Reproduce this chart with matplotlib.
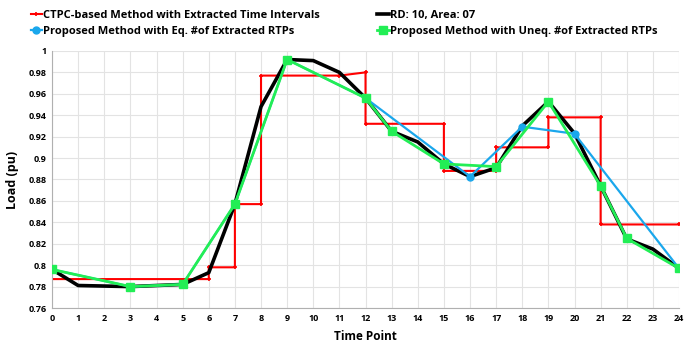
import matplotlib.pyplot as plt

plt.rcParams['font.family'] = ['Open Sans', 'DejaVu Sans']

hours = list(range(25))
actual = [0.796, 0.781, 0.7805, 0.780, 0.781, 0.782, 0.793, 0.857, 0.948, 0.992,
          0.991, 0.980, 0.956, 0.925, 0.915, 0.8945, 0.8827, 0.891, 0.930, 0.9527,
          0.923, 0.874, 0.8245, 0.815, 0.797]

# CTPC step points (time, value)
ctpc_t = [0, 6, 6, 7, 7, 8, 8, 11, 12, 12, 15, 15, 17, 17, 19, 19, 21, 21, 24]
ctpc_v = [0.787, 0.787, 0.798, 0.798, 0.857, 0.857, 0.977, 0.977, 0.980, 0.932,
          0.932, 0.888, 0.888, 0.910, 0.910, 0.938, 0.938, 0.838, 0.838]

eq_t = [0, 3, 5, 7, 9, 12, 16, 18, 20, 24]
eq_v = [0.796, 0.780, 0.782, 0.857, 0.992, 0.956, 0.8827, 0.9293, 0.9227, 0.797]

uneq_t = [0, 3, 5, 7, 9, 12, 13, 15, 17, 19, 21, 22, 24]
uneq_v = [0.796, 0.780, 0.782, 0.857, 0.992, 0.956, 0.925, 0.8945, 0.892, 0.9527,
          0.874, 0.825, 0.797]

fig = plt.figure(figsize=(6.89, 3.42), dpi=100)
ax = fig.add_axes([0.0755, 0.0994, 0.91, 0.7516])

l_red, = ax.plot(ctpc_t, ctpc_v, color='#ff0000', lw=1.5, marker='+', ms=3.5, mew=1.2,
                 label='CTPC-based Method with Extracted Time Intervals', zorder=2)
l_blk, = ax.plot(hours, actual, color='black', lw=2.6, label='RD: 10, Area: 07', zorder=3)
l_blue, = ax.plot(eq_t, eq_v, color='#1aa7ec', lw=1.6, marker='o', ms=5,
                  label='Proposed Method with Eq. #of Extracted RTPs', zorder=4)
l_grn, = ax.plot(uneq_t, uneq_v, color='#22ee55', lw=2.0, marker='s', ms=5.5,
                 label='Proposed Method with Uneq. #of Extracted RTPs', zorder=5)

ax.set_xlim(0, 24)
ax.set_ylim(0.76, 1.0)
ax.set_xticks(hours)
ax.set_yticks([0.76 + 0.02 * i for i in range(13)])
ax.set_yticklabels(['%g' % round(0.76 + 0.02 * i, 2) for i in range(13)])
ax.tick_params(length=0, labelsize=6.5, pad=4)
for lab in ax.get_xticklabels() + ax.get_yticklabels():
    lab.set_fontweight('bold')
ax.grid(True, color='#e3e3e3', lw=0.8)
ax.set_axisbelow(True)
for s in ['top', 'right']:
    ax.spines[s].set_visible(False)
for s in ['left', 'bottom']:
    ax.spines[s].set_color('#b0b0b0')

ax.set_xlabel('Time Point', fontsize=8.5, fontweight='bold', labelpad=5)
ax.set_ylabel('Load (pu)', fontsize=9, fontweight='bold', labelpad=7)

fig.legend(handles=[l_red, l_blue, l_blk, l_grn], ncol=2, loc='upper left',
           bbox_to_anchor=(0.03, 1.0), frameon=False, handlelength=1.0,
           handletextpad=0.1, columnspacing=5.2, labelspacing=0.45,
           prop={'weight': 'bold', 'size': 8})

fig.savefig('out.png', dpi=100)
